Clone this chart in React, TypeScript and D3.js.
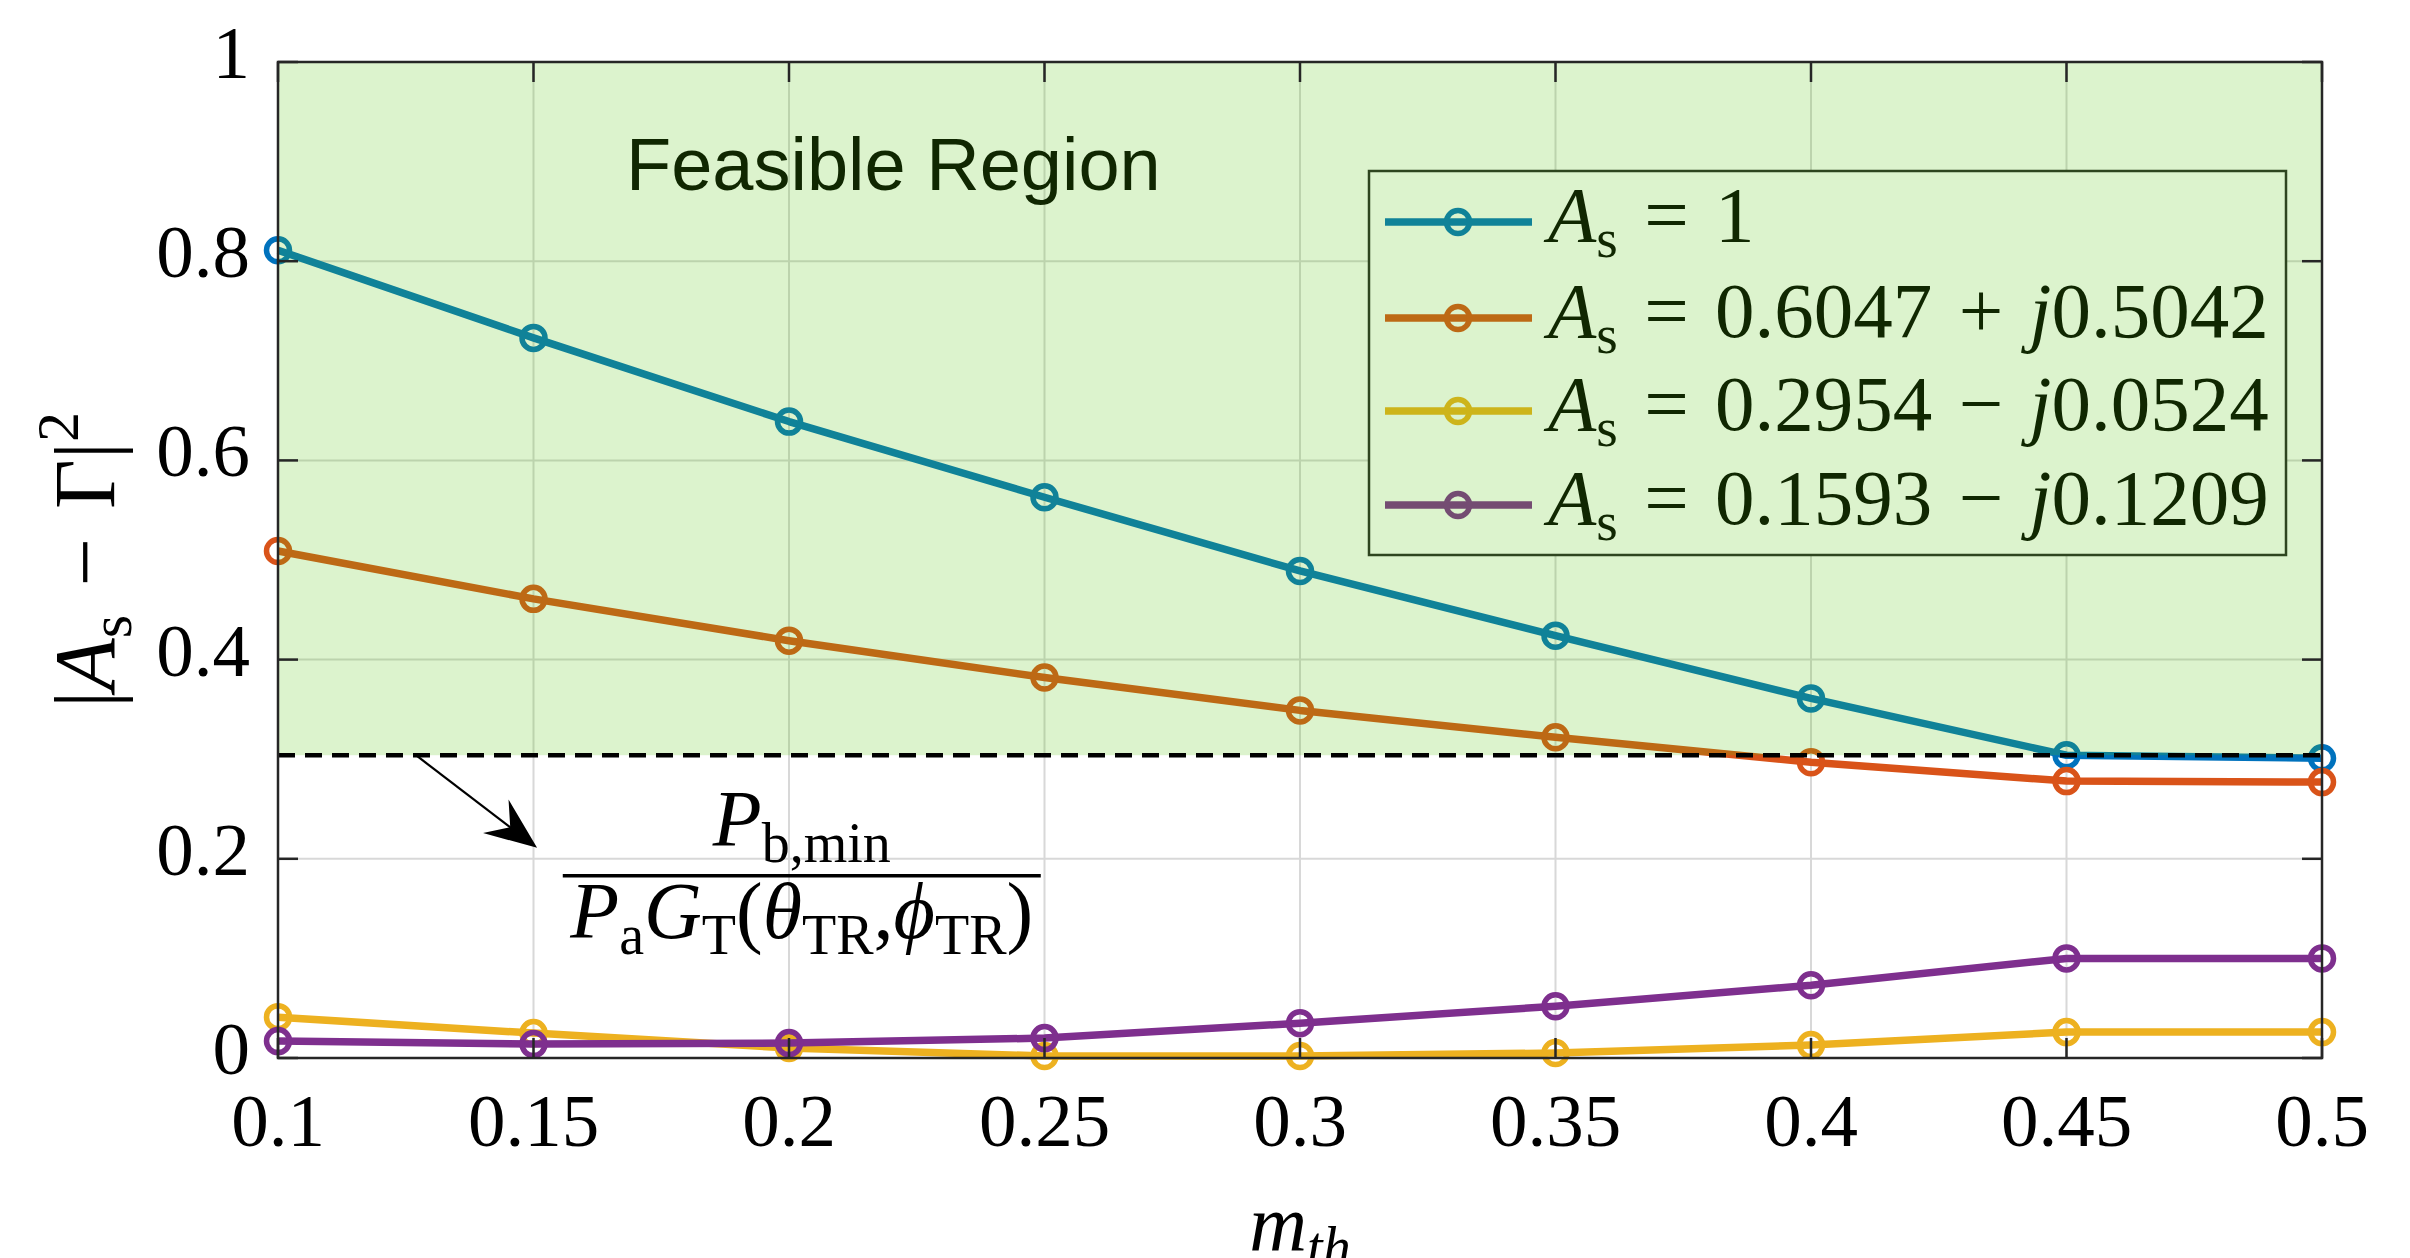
import React from "react";
import * as d3 from "d3";

// m_th values on the x axis
const mth = [0.1, 0.15, 0.2, 0.25, 0.3, 0.35, 0.4, 0.45, 0.5];

// |A_s - Gamma|^2 for each A_s
const seriesA1 = [0.811, 0.723, 0.639, 0.563, 0.489, 0.424, 0.361, 0.304, 0.301];
const seriesA2 = [0.509, 0.461, 0.419, 0.382, 0.349, 0.322, 0.297, 0.278, 0.277];
const seriesA3 = [0.041, 0.025, 0.010, 0.002, 0.002, 0.005, 0.013, 0.026, 0.026];
const seriesA4 = [0.017, 0.014, 0.015, 0.020, 0.035, 0.052, 0.073, 0.100, 0.100];

const seriesNames = ["1", "0.6047 + j0.5042", "0.2954 \u2212 j0.0524", "0.1593 \u2212 j0.1209"];
const seriesColors = ["#0072BD", "#D95319", "#EDB120", "#7E2F8E"];

const xTicks = [0.1, 0.15, 0.2, 0.25, 0.3, 0.35, 0.4, 0.45, 0.5];
const xTickLabels = ["0.1", "0.15", "0.2", "0.25", "0.3", "0.35", "0.4", "0.45", "0.5"];
const yTicks = [0, 0.2, 0.4, 0.6, 0.8, 1];
const yTickLabels = ["0", "0.2", "0.4", "0.6", "0.8", "1"];

// P_b,min / (P_a G_T) threshold
const threshold = 0.304;
// annotation arrow (data units)
const arrowFrom = [0.127, 0.304];
const arrowTo = [0.1507, 0.211];
const fracAt = [0.2025, 0.183];

const W = 2410, H = 1258;
const L = 278, R = 2322, T = 62, B = 1058;
const serif = "'Liberation Serif', 'Times New Roman', serif";
const sans = "'Liberation Sans', Arial, sans-serif";
const fs = 75;
const sp = "\u2004"; // a bit wider than a normal space, like TeX math spacing

type Seg = { t: string; it?: boolean; sub?: boolean; sup?: boolean };

function MathText({ segs, size }: { segs: Seg[]; size: number }) {
  let cur = 0;
  return (
    <>
      {segs.map((s, i) => {
        const target = s.sub ? size * 0.2 : s.sup ? -size * 0.42 : 0;
        const dy = target - cur;
        cur = target;
        return (
          <tspan
            key={i}
            dy={dy || undefined}
            fontSize={s.sub || s.sup ? size * 0.7 : size}
            fontStyle={s.it ? "italic" : "normal"}
          >
            {s.t}
          </tspan>
        );
      })}
    </>
  );
}

function legendSegs(s: string): Seg[] {
  const parts = s.replace(/ /g, sp).split("j");
  const out: Seg[] = [{ t: "A", it: true }, { t: "s", sub: true }, { t: sp + "=" + sp + parts[0] }];
  if (parts.length > 1) {
    out.push({ t: "j", it: true });
    out.push({ t: parts[1] });
  }
  return out;
}

export default function App() {
  const x = d3.scaleLinear().domain([0.1, 0.5]).range([L, R]);
  const y = d3.scaleLinear().domain([0, 1]).range([B, T]);
  const all = [seriesA1, seriesA2, seriesA3, seriesA4];
  const line = d3.line<number>().x((_, i) => x(mth[i])).y((d) => y(d));

  const lx0 = 1369, ly0 = 171, lw = 917, lh = 384;
  const rowY = [222, 318, 411, 505];

  const ax0 = x(arrowFrom[0]), ay0 = y(arrowFrom[1]);
  const ax1 = x(arrowTo[0]), ay1 = y(arrowTo[1]);
  const ang = Math.atan2(ay1 - ay0, ax1 - ax0);
  const hl = 52, hw = 21;
  const ux = Math.cos(ang), uy = Math.sin(ang);
  const head = [
    [ax1, ay1],
    [ax1 - hl * ux - hw * uy, ay1 - hl * uy + hw * ux],
    [ax1 - hl * 0.65 * ux, ay1 - hl * 0.65 * uy],
    [ax1 - hl * ux + hw * uy, ay1 - hl * uy - hw * ux],
  ];

  const fx = x(fracAt[0]), fy = y(fracAt[1]);
  const ffs = 80;
  const lw0 = 7.5, mr = 11.5, mw = 5.5;

  return (
    <svg width={W} height={H} style={{ position: "absolute", left: 0, top: 0, background: "#fff" }}>
      <rect x={0} y={0} width={W} height={H} fill="#fff" />

      {/* grid */}
      <g stroke="#d8d8d8" strokeWidth={2}>
        {xTicks.map((t) => <line key={"gx" + t} x1={x(t)} x2={x(t)} y1={T} y2={B} />)}
        {yTicks.map((t) => <line key={"gy" + t} x1={L} x2={R} y1={y(t)} y2={y(t)} />)}
      </g>

      {/* series */}
      {all.map((s, k) => (
        <g key={"s" + k}>
          <path d={line(s) || ""} fill="none" stroke={seriesColors[k]} strokeWidth={lw0} strokeLinejoin="round" />
          {s.map((v, i) => (
            <circle key={i} cx={x(mth[i])} cy={y(v)} r={mr} fill="none" stroke={seriesColors[k]} strokeWidth={mw} />
          ))}
        </g>
      ))}

      {/* legend */}
      <rect x={lx0} y={ly0} width={lw} height={lh} fill="#fff" stroke="#262626" strokeWidth={2.5} />
      {seriesNames.map((n, k) => (
        <g key={"l" + k}>
          <line x1={1385} x2={1532} y1={rowY[k]} y2={rowY[k]} stroke={seriesColors[k]} strokeWidth={lw0} />
          <circle cx={1458} cy={rowY[k]} r={mr} fill="none" stroke={seriesColors[k]} strokeWidth={mw} />
          <text x={1548} y={rowY[k] + 19} fontFamily={serif} fontSize={fs + 4} style={{ whiteSpace: "pre" }}>
            <MathText segs={legendSegs(n)} size={fs + 4} />
          </text>
        </g>
      ))}

      <text x={626} y={190} fontFamily={sans} fontSize={74} fill="#000">Feasible Region</text>

      {/* feasible region patch */}
      <rect x={L} y={T} width={R - L} height={y(threshold) - T} fill="rgb(80,195,5)" fillOpacity={0.2} />

      <line x1={x(0.1)} x2={x(0.5)} y1={y(threshold)} y2={y(threshold)} stroke="#000" strokeWidth={4.5} strokeDasharray="17 10" />

      {/* axes box and ticks */}
      <rect x={L} y={T} width={R - L} height={B - T} fill="none" stroke="#262626" strokeWidth={2.5} />
      <g stroke="#262626" strokeWidth={2.5}>
        {xTicks.map((t) => (
          <g key={"tx" + t}>
            <line x1={x(t)} x2={x(t)} y1={B} y2={B - 20} />
            <line x1={x(t)} x2={x(t)} y1={T} y2={T + 20} />
          </g>
        ))}
        {yTicks.map((t) => (
          <g key={"ty" + t}>
            <line x1={L} x2={L + 20} y1={y(t)} y2={y(t)} />
            <line x1={R} x2={R - 20} y1={y(t)} y2={y(t)} />
          </g>
        ))}
      </g>

      {/* tick labels */}
      <g fontFamily={serif} fontSize={fs} fill="#000">
        {xTicks.map((t, i) => (
          <text key={"xl" + t} x={x(t)} y={1146} textAnchor="middle">{xTickLabels[i]}</text>
        ))}
        {yTicks.map((t, i) => (
          <text key={"yl" + t} x={250} y={y(t) + 16} textAnchor="end">{yTickLabels[i]}</text>
        ))}
      </g>

      {/* axis labels */}
      <text x={1300} y={1250} textAnchor="middle" fontFamily={serif} fontSize={80} style={{ whiteSpace: "pre" }}>
        <MathText segs={[{ t: "m", it: true }, { t: "th", it: true, sub: true }]} size={80} />
      </text>
      <text transform="translate(114,560) rotate(-90)" textAnchor="middle" fontFamily={serif} fontSize={86} style={{ whiteSpace: "pre" }}>
        <MathText
          segs={[
            { t: "|" },
            { t: "A", it: true },
            { t: "s", sub: true },
            { t: sp + "\u2212" + sp + "\u0393|" },
            { t: "2", sup: true },
          ]}
          size={86}
        />
      </text>

      {/* annotation */}
      <line x1={ax0} y1={ay0} x2={ax1 - hl * 0.6 * ux} y2={ay1 - hl * 0.6 * uy} stroke="#000" strokeWidth={2.2} />
      <polygon points={head.map((p) => p.join(",")).join(" ")} fill="#000" />
      <text x={fx} y={846} textAnchor="middle" fontFamily={serif} fontSize={ffs} style={{ whiteSpace: "pre" }}>
        <MathText segs={[{ t: "P", it: true }, { t: "b,min", sub: true }]} size={ffs} />
      </text>
      <line x1={fx - 239} x2={fx + 239} y1={fy} y2={fy} stroke="#000" strokeWidth={3.5} />
      <text x={fx} y={938} textAnchor="middle" fontFamily={serif} fontSize={ffs} style={{ whiteSpace: "pre" }}>
        <MathText
          segs={[
            { t: "P", it: true },
            { t: "a", sub: true },
            { t: "G", it: true },
            { t: "T", sub: true },
            { t: "(" },
            { t: "\u03B8", it: true },
            { t: "TR", sub: true },
            { t: "," },
            { t: "\u03D5", it: true },
            { t: "TR", sub: true },
            { t: ")" },
          ]}
          size={ffs}
        />
      </text>
    </svg>
  );
}
